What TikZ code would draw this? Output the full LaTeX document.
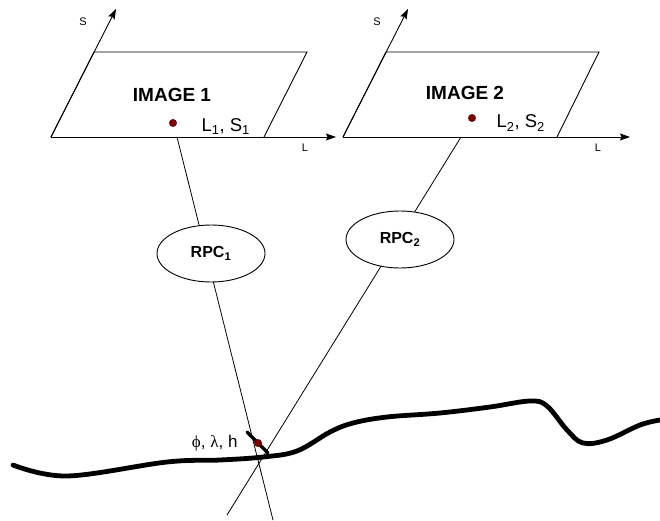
\documentclass[tikz,border=0pt]{standalone}
\usepackage{fontspec}
\setmainfont{Liberation Sans}
\newfontfamily\greekserif{Liberation Serif}
\usetikzlibrary{arrows.meta,shapes.geometric}
\definecolor{ptred}{RGB}{128,0,0}
\begin{document}
\begin{tikzpicture}[x=1pt,y=-1pt,
  frame/.style={line width=0.9pt},
  axis/.style={line width=0.9pt,-{Stealth[length=10pt,width=7pt,inset=1.5pt]}},
  ray/.style={line width=0.8pt},
  axlabel/.style={font=\fontsize{11}{13}\selectfont},
  imgtitle/.style={anchor=base,font=\fontsize{19}{21}\selectfont\bfseries},
  coordlabel/.style={anchor=base west,font=\fontsize{18.5}{20}\selectfont},
  pointdot/.style={circle,fill=ptred,draw=ptred!60!black,line width=0.3pt,minimum size=7.5pt,inner sep=0pt},
  rpc/.style={ellipse,draw,line width=0.9pt,fill=white,minimum width=108pt,minimum height=57pt,inner sep=0pt,font=\fontsize{16}{18}\selectfont\bfseries},
  ground/.style={line width=4.8pt,line cap=round,line join=round},
  tick/.style={line width=3.2pt,line cap=round}
]
\useasboundingbox (0,0) rectangle (660,521);

% image planes
\coordinate (o1) at (51,137);
\coordinate (o2) at (343,137);
\draw[frame] (o1) -- (94,52) -- (307,52) -- (264,137);
\draw[frame] (o2) -- (386,52) -- (599,52) -- (557,137);

% image axes
\coordinate (s1) at (116,9);
\coordinate (l1) at (336,137);
\coordinate (s2) at (408,9);
\coordinate (l2) at (630,137);
\draw[axis] (o1) -- (s1);
\draw[axis] (o1) -- (l1);
\draw[axis] (o2) -- (s2);
\draw[axis] (o2) -- (l2);
\node[axlabel] (s1lab) at (83,22) {S};
\node[axlabel] (l1lab) at (305,148) {L};
\node[axlabel] (s2lab) at (377,22) {S};
\node[axlabel] (l2lab) at (598,148) {L};

% titles, image points and their coordinates
\node[imgtitle] (title1) at (172,101.5) {IMAGE 1};
\node[imgtitle] (title2) at (465,100) {IMAGE 2};
\node[pointdot] (pt1) at (173,123) {};
\node[pointdot] (pt2) at (472,118) {};
\node[coordlabel] (ls1) at (198,132) {L\textsubscript{1}, S\textsubscript{1}};
\node[coordlabel] (ls2) at (493,128) {L\textsubscript{2}, S\textsubscript{2}};

% projection rays
\coordinate (r1top) at (177,137);
\coordinate (r1end) at (273,520);
\coordinate (r2top) at (461,137);
\coordinate (r2end) at (227,515);
\draw[ray] (r1top) -- (r1end);
\draw[ray] (r2top) -- (r2end);

% rational polynomial models
\node[rpc] (rpc1) at (211,253.5) {RPC\textsubscript{1}};
\node[rpc] (rpc2) at (400,239.5) {RPC\textsubscript{2}};

% terrain profile
\draw[ground] plot[smooth,tension=0.6] coordinates {
  (13,465) (67,476) (167,462) (220,460) (263,457) (297,451)
  (330,432) (353,423) (387,417) (440,413) (490,407) (530,401)
  (547,406) (567,430) (583,443) (607,440) (640,425) (660,420)};

% ground point
\coordinate (tk1) at (247,432);
\coordinate (tk2) at (268,453);
\draw[tick] (tk1) -- (tk2);
\node[pointdot] (gp) at (258,443) {};
\node[anchor=base east,font=\fontsize{17}{19}\selectfont] (geo) at (241,447) {{\greekserif ϕ}, {\greekserif λ}, h};
\end{tikzpicture}
\end{document}
